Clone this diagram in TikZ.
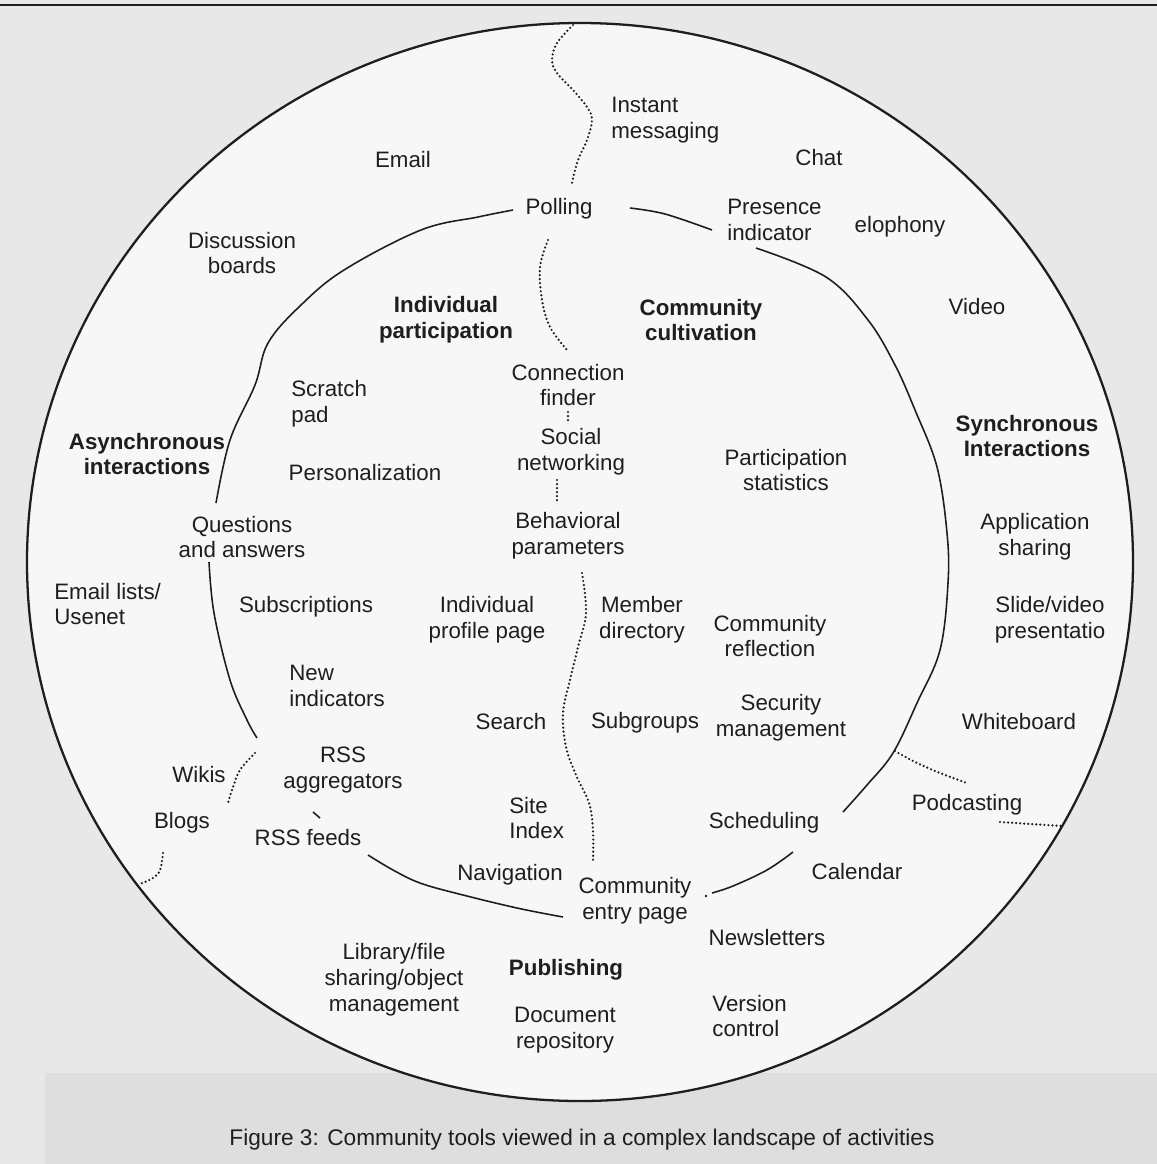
\documentclass[tikz,border=0pt]{standalone}
\usepackage{fontspec}
\setmainfont{Liberation Sans}
\definecolor{paper}{HTML}{E8E8E8}
\definecolor{sheet}{HTML}{F7F7F7}
\definecolor{band}{HTML}{DEDEDE}
\definecolor{ink}{HTML}{1E1E1E}
\newcommand{\labelfont}{\fontsize{12.7}{14.7}\selectfont}

\begin{document}
\begin{tikzpicture}[x=0.02cm, y=-0.02cm, font=\labelfont,
    every node/.style={align=center, text=ink, inner sep=0pt},
    sect/.style={font=\labelfont\bfseries},
    rim/.style={draw=ink, line width=1.3pt},
    ring/.style={draw=ink, line width=0.9pt},
    dotline/.style={draw=ink, line width=1.4pt, dash pattern=on 0pt off 2.3pt, line cap=round}]
    % page and scan
    \useasboundingbox (0,0) rectangle (1157,1164);
    \fill[paper] (0,0) rectangle (1157,1164);
    \fill[band] (45,1073) rectangle (1157,1164);
    \draw[ink, line width=1.2pt] (0,5) -- (1157,5);

    % outer rim
    \path[rim, fill=sheet] (580,562) ellipse [x radius=553, y radius=539];

    % inner ring, in pieces
    \draw[ring] plot[smooth, tension=0.6] coordinates {(513,210) (478,217) (421,230) (344,270) (300,306) (268,343) (255,385) (230,440) (216,503)};
    \draw[ring] plot[smooth, tension=0.6] coordinates {(209,562) (214,613) (230,680) (247,720) (257,738)};
    \draw[ring] (313,812) -- (320,818);
    \draw[ring] plot[smooth, tension=0.6] coordinates {(368,855) (393,870) (420,883) (459,894) (517,908) (563,917)};
    \draw[ring] plot[smooth, tension=0.6] coordinates {(712,893) (733,886) (767,870) (793,852)};
    \fill[ink] (706,896) circle (1.3);
    \draw[ring] plot[smooth, tension=0.6] coordinates {(630,208) (665,214) (712,230)};
    \draw[ring] plot[smooth, tension=0.6] coordinates {(756,248) (826,277) (868,320) (895,365) (915,410) (937,467) (947,533) (948,583) (940,650) (917,703) (893,753) (867,785) (843,812)};

    % dividers
    \draw[dotline] plot[smooth, tension=0.6] coordinates {(573,25) (557,43) (552,60) (557,73) (573,90) (587,107) (592,120) (587,140) (578,160) (572,183)};
    \draw[dotline] plot[smooth, tension=0.6] coordinates {(548,240) (540,267) (542,300) (550,327) (567,350)};
    \draw[dotline] (568,412) -- (568,421);
    \draw[dotline] (557,480) -- (557,503);
    \draw[dotline] plot[smooth, tension=0.6] coordinates {(582,573) (586,613) (578,647) (570,680) (563,713) (566,747) (576,775) (589,803) (593,830) (593,860)};
    \draw[dotline] plot[smooth, tension=0.6] coordinates {(255,753) (240,770) (233,787) (228,803)};
    \draw[dotline] plot[smooth, tension=0.6] coordinates {(163,853) (160,870) (153,878) (140,884)};
    \draw[dotline] plot[smooth, tension=0.6] coordinates {(895,751) (915,762) (940,773) (967,783)};
    \draw[dotline] (1000,822) -- (1062,826);

    % labels
    \node (instant) [anchor=west, align=left] at (611,120) {Instant\\messaging};
    \node (email) at (403,160) {Email};
    \node (chat) at (819,158) {Chat};
    \node (polling) at (559,209) {Polling};
    \node (presence) [anchor=west, align=left] at (727,220) {Presence\\indicator};
    \node (phone) at (900,227) {elophony};
    \node (boards) at (242,253) {Discussion\\boards};
    \node[sect] (indiv) at (446,320) {Individual\\participation};
    \node[sect] (cultiv) at (701,320) {Community\\cultivation};
    \node (video) at (977,307) {Video};
    \node (finder) at (568,385) {Connection\\finder};
    \node (scratch) [anchor=west, align=left] at (291,404) {Scratch\\pad};
    \node[sect] (async) at (147,454) {Asynchronous\\interactions};
    \node (social) at (571,452) {Social\\networking};
    \node (personal) at (365,473) {Personalization};
    \node (stats) at (786,470) {Participation\\statistics};
    \node[sect] (sync) at (1027,436) {Synchronous\\Interactions};
    \node (qanda) at (242,537) {Questions\\and answers};
    \node (behav) at (568,536) {Behavioral\\parameters};
    \node (appshare) at (1035,537) {Application\\sharing};
    \node (lists) [anchor=west, align=left] at (54,604) {Email lists/\\Usenet};
    \node (subs) at (306,607) {Subscriptions};
    \node (profile) at (487,620) {Individual\\profile page};
    \node (member) at (642,620) {Member\\directory};
    \node (reflect) at (770,636) {Community\\reflection};
    \node (slides) at (1050,620) {Slide/video\\presentatio};
    \node (newind) [anchor=west, align=left] at (289,686) {New\\indicators};
    \node (search) at (511,722) {Search};
    \node (subgroups) at (645,723) {Subgroups};
    \node (security) at (781,718) {Security\\management};
    \node (whiteboard) at (1019,722) {Whiteboard};
    \node (rssagg) at (343,770) {RSS\\aggregators};
    \node (wikis) at (199,775) {Wikis};
    \node (site) [anchor=west, align=left] at (509,818) {Site\\Index};
    \node (podcast) at (967,805) {Podcasting};
    \node (blogs) at (182,823) {Blogs};
    \node (rssfeeds) at (308,838) {RSS feeds};
    \node (sched) at (764,823) {Scheduling};
    \node (calendar) at (857,872) {Calendar};
    \node (nav) at (510,875) {Navigation};
    \node (entry) at (635,901) {Community\\entry page};
    \node (news) at (767,938) {Newsletters};
    \node (library) at (394,980) {Library/file\\sharing/object\\management};
    \node[sect] (publish) at (566,970) {Publishing};
    \node (docrepo) at (565,1030) {Document\\repository};
    \node (version) [anchor=west, align=left] at (712,1016) {Version\\control};

    \node[font=\fontsize{12.9}{15}\selectfont] (caption) at (582,1140) {Figure 3: Community tools viewed in a complex landscape of activities};
\end{tikzpicture}
\end{document}
